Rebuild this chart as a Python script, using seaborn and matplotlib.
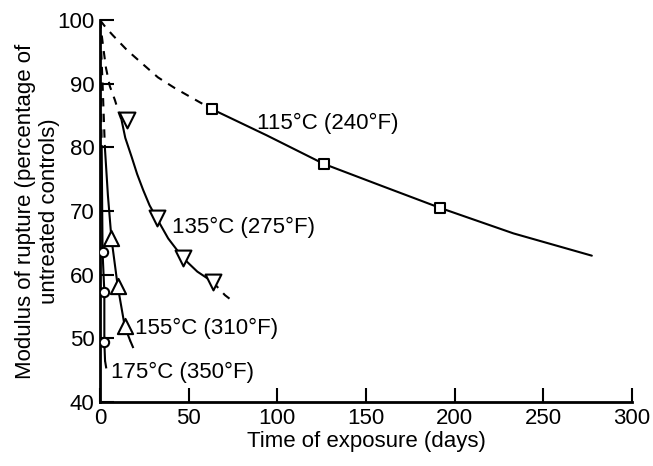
import matplotlib
matplotlib.use("Agg")
import matplotlib.pyplot as plt
import seaborn as sns

# valores (dias, % do controle)
# 115 C
x115_tracejado = [0, 3.4, 7.3, 15.2, 23.7, 32.7, 42.3, 52.4, 63.2]
y115_tracejado = [100, 98.8, 97.6, 95.3, 93.2, 91.0, 89.3, 87.7, 86.0]
x115_linha = [63.2, 94.0, 126.3, 159.4, 191.8, 233.1, 277.3]
y115_linha = [86.0, 81.9, 77.4, 73.9, 70.5, 66.5, 63.0]
x115_pontos = [63.2, 126.3, 191.8]
y115_pontos = [86.0, 77.4, 70.5]

# 135 C
x135_tracejado = [0, 1.7, 3.4, 5.6, 8.5, 10.7, 12.2]
y135_tracejado = [100, 96.1, 92.5, 89.6, 87.4, 85.4, 84.3]
x135_linha = [12.2, 14.3, 17.9, 21.0, 24.4, 28.0, 32.0, 38.5, 47.0, 54.9, 63.5]
y135_linha = [84.3, 81.5, 78.5, 75.8, 73.3, 70.9, 68.9, 65.7, 62.6, 60.5, 58.9]
x135_cauda = [63.5, 70.5, 76.1]
y135_cauda = [58.9, 56.8, 55.6]
x135_pontos = [15.0, 32.0, 47.0, 63.5]
y135_pontos = [84.3, 68.9, 62.6, 58.9]

# 155 C
x155_tracejado = [0, 1.5, 2.8]
y155_tracejado = [100, 90, 80]
x155_linha = [2.8, 4.5, 6.5, 10.0, 14.0, 17.0]
y155_linha = [80, 72.5, 65.7, 58.3, 51.9, 49.7]
x155_cauda = [17.0, 19.3]
y155_cauda = [49.7, 48.2]
x155_pontos = [6.5, 10.0, 14.0]
y155_pontos = [65.7, 58.3, 51.9]

# 175 C
x175_tracejado = [0, 0.5, 1.0]
y175_tracejado = [100, 90, 80]
x175_linha = [1.0, 1.5, 2.5, 2.5, 2.9]
y175_linha = [80, 63.5, 57.3, 49.4, 46.5]
x175_cauda = [2.9, 3.6]
y175_cauda = [46.5, 45.3]
x175_pontos = [1.5, 2.5, 2.5]
y175_pontos = [63.5, 57.3, 49.4]

rotulos = ['115°C (240°F)', '135°C (275°F)', '155°C (310°F)', '175°C (350°F)']
x_rotulos = [88.5, 40.6, 19.7, 6.2]
y_rotulos = [83.8, 67.5, 51.6, 44.7]

sns.set_style("ticks")
plt.rcParams['font.family'] = ['Liberation Sans', 'DejaVu Sans']
plt.rcParams['font.size'] = 16
for chave in ['text.color', 'axes.labelcolor', 'xtick.color', 'ytick.color', 'axes.edgecolor']:
    plt.rcParams[chave] = 'black'

fig, ax = plt.subplots(figsize=(6.53, 4.66), dpi=100)
fig.subplots_adjust(left=0.153, right=0.968, bottom=0.137, top=0.957)

tracejado = (0, (4, 3.5))
lw = 1.5

def linha(x, y, estilo='-'):
    sns.lineplot(x=x, y=y, ax=ax, color='black', linewidth=lw, linestyle=estilo,
                 sort=False, estimator=None)

# linhas tracejadas e continuas
linha(x115_tracejado, y115_tracejado, tracejado)
linha(x115_linha, y115_linha)
linha(x135_tracejado, y135_tracejado, tracejado)
linha(x135_linha, y135_linha)
linha(x135_cauda, y135_cauda, tracejado)
linha(x155_tracejado, y155_tracejado, tracejado)
linha(x155_linha, y155_linha)
linha(x155_cauda, y155_cauda, tracejado)
linha(x175_tracejado, y175_tracejado, tracejado)
linha(x175_linha, y175_linha)
linha(x175_cauda, y175_cauda, tracejado)

# marcadores vazados
sns.scatterplot(x=x115_pontos, y=y115_pontos, ax=ax, marker='s', s=55,
                color='white', edgecolor='black', linewidth=1.5, zorder=3)
sns.scatterplot(x=x135_pontos, y=y135_pontos, ax=ax, marker='v', s=130,
                color='white', edgecolor='black', linewidth=1.5, zorder=3)
sns.scatterplot(x=x155_pontos, y=y155_pontos, ax=ax, marker='^', s=120,
                color='white', edgecolor='black', linewidth=1.5, zorder=3)
sns.scatterplot(x=x175_pontos, y=y175_pontos, ax=ax, marker='o', s=45,
                color='white', edgecolor='black', linewidth=1.5, zorder=3)

for texto, xt, yt in zip(rotulos, x_rotulos, y_rotulos):
    ax.text(xt, yt, texto, ha='left', va='center', fontsize=16)

ax.set_xlim(0, 300)
ax.set_ylim(40, 100)
ax.set_xticks([0, 50, 100, 150, 200, 250, 300])
ax.set_yticks([40, 50, 60, 70, 80, 90, 100])
ax.tick_params(direction='in', length=10, width=1.5, labelsize=16, pad=4)
ax.spines['left'].set_linewidth(2)
ax.spines['bottom'].set_linewidth(2)
sns.despine(ax=ax)

ax.set_xlabel('Time of exposure (days)', fontsize=16, labelpad=2)
ax.set_ylabel('Modulus of rupture (percentage of\nuntreated controls)', fontsize=16, labelpad=-2)

plt.savefig('out.png', dpi=100)
